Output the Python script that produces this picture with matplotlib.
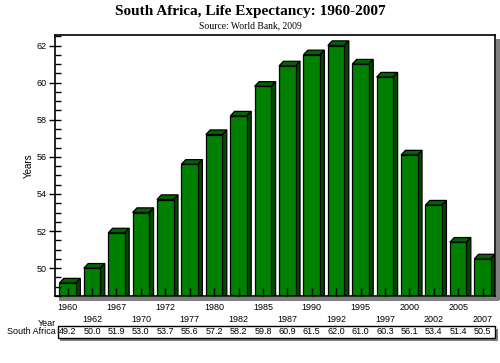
import numpy as np
import matplotlib
matplotlib.use("Agg")
import matplotlib.pyplot as plt
from matplotlib.patches import Polygon, Rectangle
from matplotlib.transforms import blended_transform_factory

# data
years = ["1960", "1962", "1967", "1970", "1972", "1977", "1980", "1982", "1985",
         "1987", "1990", "1992", "1995", "1997", "2000", "2002", "2005", "2007"]
life_exp = [49.2, 50.0, 51.9, 53.0, 53.7, 55.6, 57.2, 58.2, 59.8,
            60.9, 61.5, 62.0, 61.0, 60.3, 56.1, 53.4, 51.4, 50.5]

plt.rcParams['font.family'] = ['Liberation Sans', 'DejaVu Sans']

W, H = 500, 363
fig = plt.figure(figsize=(W / 100, H / 100), dpi=100)
fig.patch.set_facecolor("white")

def fx(px):
    return px / W

def fy(py):
    return 1 - py / H

ax = fig.add_axes([fx(55), fy(296), fx(495) - fx(55), fy(35.3) - fy(296)])
ymin, ymax = 48.5, 62.55
ax.set_ylim(ymin, ymax)
ax.set_xlim(-0.52, 17.51)

x = np.arange(len(years))
vals = np.array(life_exp)
bw = 0.68
dx = 0.18   # 3d depth in x (data units)
dy = 0.25   # 3d depth in y (data units)

face = "#008000"
top_c = "#006400"
side_c = "#004800"

ax.bar(x, vals - ymin, bottom=ymin, width=bw, color=face, edgecolor="black",
       linewidth=0.9, zorder=2)
for xi, v in zip(x, vals):
    l, r = xi - bw / 2, xi + bw / 2
    top = Polygon([(l, v), (l + dx, v + dy), (r + dx, v + dy), (r, v)],
                  closed=True, facecolor=top_c, edgecolor="black", lw=0.9, zorder=1.9)
    side = Polygon([(r, v), (r + dx, v + dy), (r + dx, ymin), (r, ymin)],
                   closed=True, facecolor=side_c, edgecolor="black", lw=0.9, zorder=1.9)
    ax.add_patch(top)
    ax.add_patch(side)

# axes styling
for s in ax.spines.values():
    s.set_linewidth(1.2)
ax.set_yticks([50, 52, 54, 56, 58, 60, 62])
ax.set_yticks(np.arange(48.5, 62.6, 0.5), minor=True)
ax.tick_params(axis="y", which="major", direction="inout", length=8, width=1,
               labelsize=6.5, pad=2)
ax.tick_params(axis="y", which="minor", direction="in", length=4, width=1)
ax.set_ylabel("Years", fontsize=7, labelpad=2)

ax.set_xticks(x)
ax.set_xticklabels([])
ax.tick_params(axis="x", which="major", direction="in", length=5.5, width=1,
               bottom=True, top=False)
ax.set_axisbelow(False)

# staggered year labels
trans = blended_transform_factory(ax.transData, fig.transFigure)
for i, yr in enumerate(years):
    ypix = 307 if i % 2 == 0 else 319.5
    ax.text(i, fy(ypix), yr, transform=trans, ha="center", va="center",
            fontsize=6.5, clip_on=False)

# frame shadow
fig.patches.append(Rectangle((fx(495.5), fy(300)), fx(4), fy(39) - fy(300),
                             transform=fig.transFigure, facecolor="#808080",
                             edgecolor="none", zorder=-2))
fig.patches.append(Rectangle((fx(59), fy(300.5)), fx(440), fy(296.5) - fy(300.5),
                             transform=fig.transFigure, facecolor="#808080",
                             edgecolor="none", zorder=-2))

# data table
fig.text(fx(56), fy(323), "Year", ha="right", va="center", fontsize=6.5)
fig.text(fx(55.5), fy(332), "South Africa", ha="right", va="center", fontsize=6.5)
fig.patches.append(Rectangle((fx(60), fy(341)), fx(438), fy(329) - fy(341),
                             transform=fig.transFigure, facecolor="#808080",
                             edgecolor="none", zorder=-2))
fig.patches.append(Rectangle((fx(57.5), fy(338)), fx(437.5), fy(326) - fy(338),
                             transform=fig.transFigure, facecolor="white",
                             edgecolor="black", lw=1, zorder=-1))
for i, v in enumerate(life_exp):
    ax.text(i, fy(332), f"{v:.1f}", transform=trans, ha="center", va="center",
            fontsize=6.5, clip_on=False)

# titles
fig.text(0.5, fy(12), "South Africa, Life Expectancy: 1960-2007", ha="center",
         va="center", fontsize=11, fontweight="bold", family="Liberation Serif")
fig.text(0.5, fy(25.5), "Source: World Bank, 2009", ha="center", va="center",
         fontsize=6.9, family="Liberation Serif")

fig.savefig("out.png", dpi=100)
